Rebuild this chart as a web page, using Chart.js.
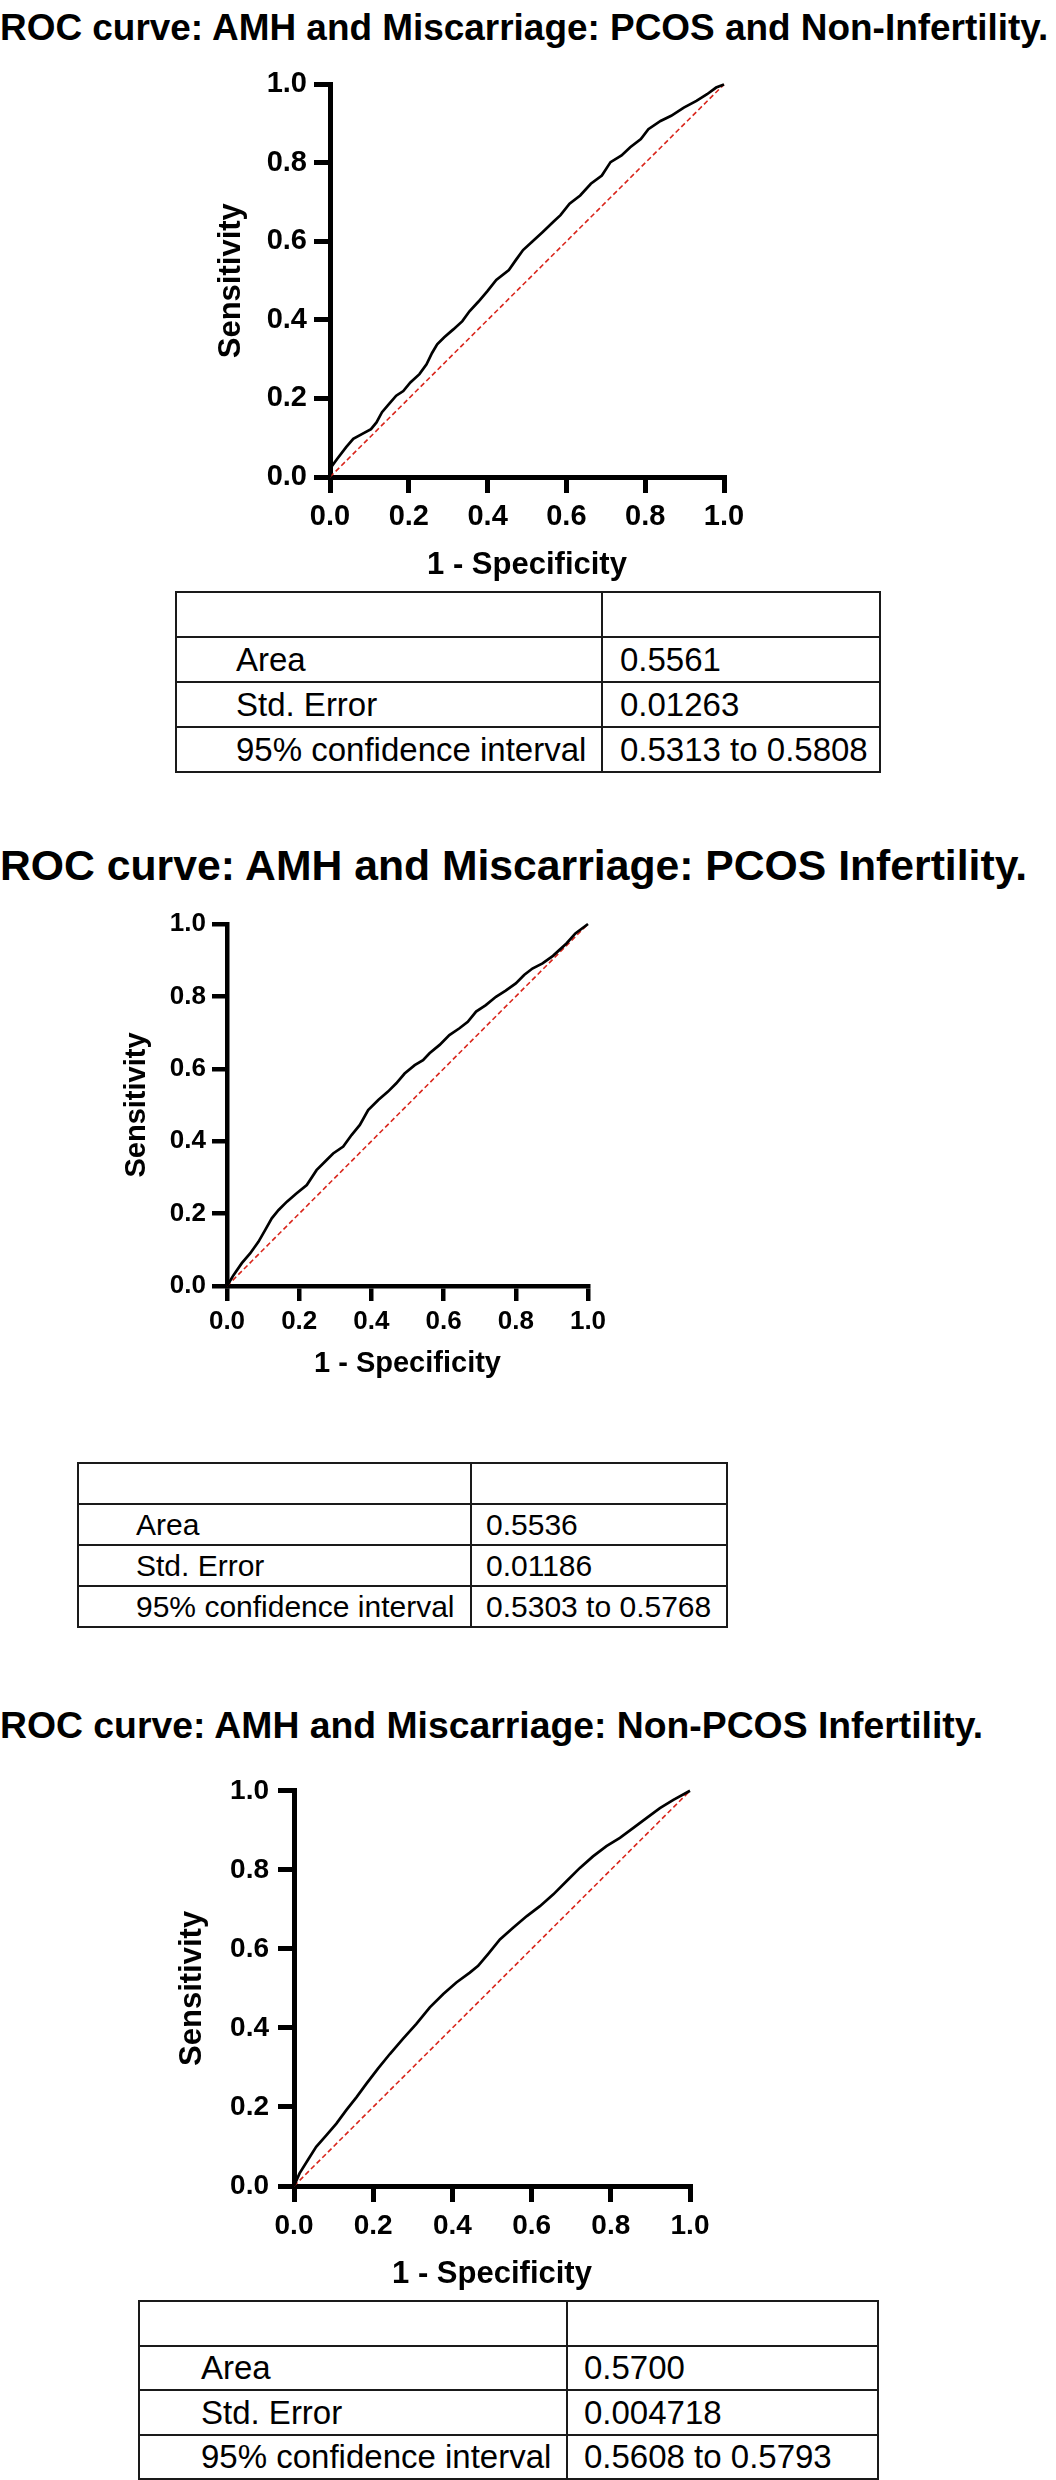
<!DOCTYPE html>
<html>
<head>
<meta charset="utf-8">
<script src="https://cdn.jsdelivr.net/npm/chart.js@4.4.1/dist/chart.umd.min.js"></script>
<style>
  html, body { margin: 0; padding: 0; background: #fff; }
  body { width: 1056px; height: 2480px; position: relative; overflow: hidden; font-family: "Liberation Sans", Arial, sans-serif; color: #000; }
  .title { position: absolute; left: 0; white-space: nowrap; font-weight: bold; line-height: 1; }
  canvas { position: absolute; }
  table.stats { position: absolute; border-collapse: collapse; table-layout: fixed; }
  table.stats td { border: 2px solid #1a1a1a; padding: 0; white-space: nowrap; overflow: hidden; vertical-align: middle; line-height: 1; }
</style>
</head>
<body>
<div id="panels"></div>
<script>
// ---- data ----
const titles = [
  'ROC curve: AMH and Miscarriage: PCOS and Non-Infertility.',
  'ROC curve: AMH and Miscarriage: PCOS Infertility.',
  'ROC curve: AMH and Miscarriage: Non-PCOS Infertility.'
];
const xAxisTitle = '1 - Specificity';
const yAxisTitle = 'Sensitivity';
const tickValues = [0, 0.2, 0.4, 0.6, 0.8, 1.0];

// chance line
const refX = [0, 1];
const refY = [0, 1];

// PCOS and Non-Infertility
const fpr1 = [0, 0, 0.018, 0.041, 0.059, 0.082, 0.104, 0.118, 0.132, 0.150, 0.168, 0.186, 0.204, 0.227, 0.245, 0.259, 0.272, 0.290, 0.313, 0.336, 0.354, 0.377, 0.399, 0.422, 0.454, 0.472, 0.490, 0.513, 0.540, 0.567, 0.585, 0.608, 0.635, 0.662, 0.690, 0.712, 0.740, 0.762, 0.789, 0.808, 0.839, 0.866, 0.898, 0.930, 0.957, 0.980, 1];
const tpr1 = [0, 0.021, 0.046, 0.076, 0.097, 0.110, 0.122, 0.139, 0.165, 0.186, 0.207, 0.219, 0.241, 0.262, 0.287, 0.316, 0.338, 0.356, 0.376, 0.397, 0.422, 0.447, 0.473, 0.502, 0.527, 0.553, 0.578, 0.599, 0.624, 0.650, 0.667, 0.696, 0.717, 0.747, 0.768, 0.802, 0.819, 0.840, 0.861, 0.886, 0.907, 0.920, 0.941, 0.958, 0.975, 0.992, 1];

// PCOS Infertility
const fpr2 = [0, 0.018, 0.041, 0.064, 0.087, 0.106, 0.124, 0.143, 0.166, 0.193, 0.221, 0.248, 0.276, 0.294, 0.322, 0.345, 0.368, 0.391, 0.419, 0.446, 0.469, 0.492, 0.520, 0.543, 0.561, 0.589, 0.616, 0.644, 0.667, 0.690, 0.717, 0.745, 0.772, 0.800, 0.823, 0.846, 0.874, 0.903, 0.941, 0.965, 1];
const tpr2 = [0, 0.030, 0.063, 0.090, 0.122, 0.155, 0.187, 0.210, 0.233, 0.256, 0.279, 0.320, 0.348, 0.366, 0.385, 0.417, 0.445, 0.486, 0.514, 0.537, 0.560, 0.587, 0.610, 0.624, 0.643, 0.666, 0.693, 0.712, 0.730, 0.758, 0.776, 0.799, 0.816, 0.836, 0.859, 0.877, 0.891, 0.912, 0.947, 0.974, 1];

// Non-PCOS Infertility
const fpr3 = [0, 0.014, 0.035, 0.056, 0.082, 0.107, 0.132, 0.158, 0.183, 0.212, 0.242, 0.275, 0.309, 0.343, 0.377, 0.410, 0.444, 0.465, 0.490, 0.520, 0.554, 0.588, 0.621, 0.655, 0.688, 0.722, 0.755, 0.789, 0.823, 0.857, 0.890, 0.924, 0.958, 1];
const tpr3 = [0, 0.032, 0.066, 0.099, 0.129, 0.158, 0.192, 0.225, 0.259, 0.297, 0.334, 0.372, 0.410, 0.452, 0.486, 0.515, 0.540, 0.557, 0.587, 0.624, 0.654, 0.683, 0.708, 0.738, 0.771, 0.805, 0.834, 0.860, 0.881, 0.906, 0.931, 0.956, 0.977, 1];

// result tables
const rowLabels = ['Area', 'Std. Error', '95% confidence interval'];
const stats1 = ['0.5561', '0.01263', '0.5313 to 0.5808'];
const stats2 = ['0.5536', '0.01186', '0.5303 to 0.5768'];
const stats3 = ['0.5700', '0.004718', '0.5608 to 0.5793'];

// ---- layout (pixels) ----
const panels = [
  {
    fpr: fpr1, tpr: tpr1, stats: stats1, title: titles[0],
    titleY: 28, titleW: 1050,
    canvas: { left: 200, top: 60, width: 560, height: 530, padTop: 22, padRight: 36, yW: 130, xH: 113 },
    tickFont: 29, axisFont: 31, tickLen: 16, axisW: 5, yPad: 7, xPad: 7, yTitlePad: 13, xTitlePad: 6,
    table: { left: 175, top: 591, c1: 426, c2: 278, rowH: 45, fs: 33, ind1: 59, ind2: 17 }
  },
  {
    fpr: fpr2, tpr: tpr2, stats: stats2, title: titles[1],
    titleY: 865, titleW: 1029,
    canvas: { left: 110, top: 900, width: 512, height: 490, padTop: 24, padRight: 34, yW: 117, xH: 104 },
    tickFont: 26, axisFont: 29, tickLen: 15, axisW: 4.5, yPad: 6, xPad: 5, yTitlePad: 10, xTitlePad: 9,
    table: { left: 77, top: 1462, c1: 393, c2: 256, rowH: 41, fs: 30, ind1: 57, ind2: 14 }
  },
  {
    fpr: fpr3, tpr: tpr3, stats: stats3, title: titles[2],
    titleY: 1726, titleW: 985,
    canvas: { left: 165, top: 1765, width: 559, height: 535, padTop: 24, padRight: 34, yW: 129, xH: 114 },
    tickFont: 28, axisFont: 31, tickLen: 16, axisW: 5, yPad: 9, xPad: 7, yTitlePad: 9, xTitlePad: 7,
    table: { left: 138, top: 2300, c1: 428, c2: 311, rowH: 44.5, fs: 33, ind1: 61, ind2: 16 }
  }
];

const FONT = '"Liberation Sans", Arial, sans-serif';
const measureCtx = document.createElement('canvas').getContext('2d');

function fitFontSize(text, width) {
  measureCtx.font = `bold 100px ${FONT}`;
  return 100 * width / measureCtx.measureText(text).width;
}

function toPoints(xs, ys) {
  return xs.map((x, i) => ({ x: x, y: ys[i] }));
}

function axisOptions(p, isX) {
  return {
    type: 'linear',
    min: 0,
    max: 1,
    afterBuildTicks: scale => { scale.ticks = tickValues.map(v => ({ value: v })); },
    afterFit: scale => {
      if (isX) scale.height = p.canvas.xH;
      else scale.width = p.canvas.yW;
    },
    ticks: {
      color: '#000',
      padding: isX ? p.xPad : p.yPad,
      maxRotation: 0,
      autoSkip: false,
      font: { family: FONT, size: p.tickFont, weight: 'bold' },
      callback: v => Number(v).toFixed(1)
    },
    grid: {
      drawOnChartArea: false,
      drawTicks: true,
      tickLength: p.tickLen,
      tickWidth: p.axisW,
      tickColor: '#000',
      color: '#000',
      lineWidth: p.axisW
    },
    border: { display: true, color: '#000', width: p.axisW },
    title: {
      display: true,
      text: isX ? xAxisTitle : yAxisTitle,
      color: '#000',
      font: { family: FONT, size: p.axisFont, weight: 'bold' },
      padding: isX ? { top: 0, bottom: p.xTitlePad } : { top: p.yTitlePad, bottom: 0 }
    }
  };
}

function drawPanel(p, idx) {
  const root = document.getElementById('panels');

  // chart title
  const t = document.createElement('div');
  t.className = 'title';
  const fs = fitFontSize(p.title, p.titleW);
  t.style.fontSize = fs + 'px';
  t.style.top = (p.titleY - fs / 2) + 'px';
  t.textContent = p.title;
  root.appendChild(t);

  // plot
  const c = document.createElement('canvas');
  c.id = 'roc-' + idx;
  c.width = p.canvas.width;
  c.height = p.canvas.height;
  c.style.left = p.canvas.left + 'px';
  c.style.top = p.canvas.top + 'px';
  c.style.width = p.canvas.width + 'px';
  c.style.height = p.canvas.height + 'px';
  root.appendChild(c);

  new Chart(c, {
    type: 'line',
    data: {
      datasets: [
        {
          label: 'ROC',
          data: toPoints(p.fpr, p.tpr),
          borderColor: '#000',
          borderWidth: 2.7,
          pointRadius: 0,
          tension: 0,
          clip: false,
          order: 1
        },
        {
          label: 'Chance',
          data: toPoints(refX, refY),
          borderColor: '#d9261c',
          borderWidth: 1.6,
          borderDash: [5, 3],
          pointRadius: 0,
          clip: false,
          order: 2
        }
      ]
    },
    options: {
      responsive: false,
      animation: false,
      devicePixelRatio: 1,
      layout: { padding: { top: p.canvas.padTop, right: p.canvas.padRight, bottom: 0, left: 0 } },
      plugins: { legend: { display: false }, tooltip: { enabled: false } },
      scales: {
        x: axisOptions(p, true),
        y: axisOptions(p, false)
      }
    }
  });

  // results table
  const tb = p.table;
  const table = document.createElement('table');
  table.className = 'stats';
  table.style.left = tb.left + 'px';
  table.style.top = tb.top + 'px';
  table.style.width = (tb.c1 + tb.c2) + 'px';
  table.style.fontSize = tb.fs + 'px';
  const rows = [['', '']].concat(rowLabels.map((lab, i) => [lab, p.stats[i]]));
  table.innerHTML = `
    <colgroup><col style="width:${tb.c1}px"><col style="width:${tb.c2}px"></colgroup>
    ${rows.map(r => `
      <tr style="height:${tb.rowH}px">
        <td style="padding-left:${tb.ind1}px">${r[0]}</td>
        <td style="padding-left:${tb.ind2}px">${r[1]}</td>
      </tr>`).join('')}
  `;
  root.appendChild(table);
}

panels.forEach(drawPanel);
</script>
</body>
</html>
